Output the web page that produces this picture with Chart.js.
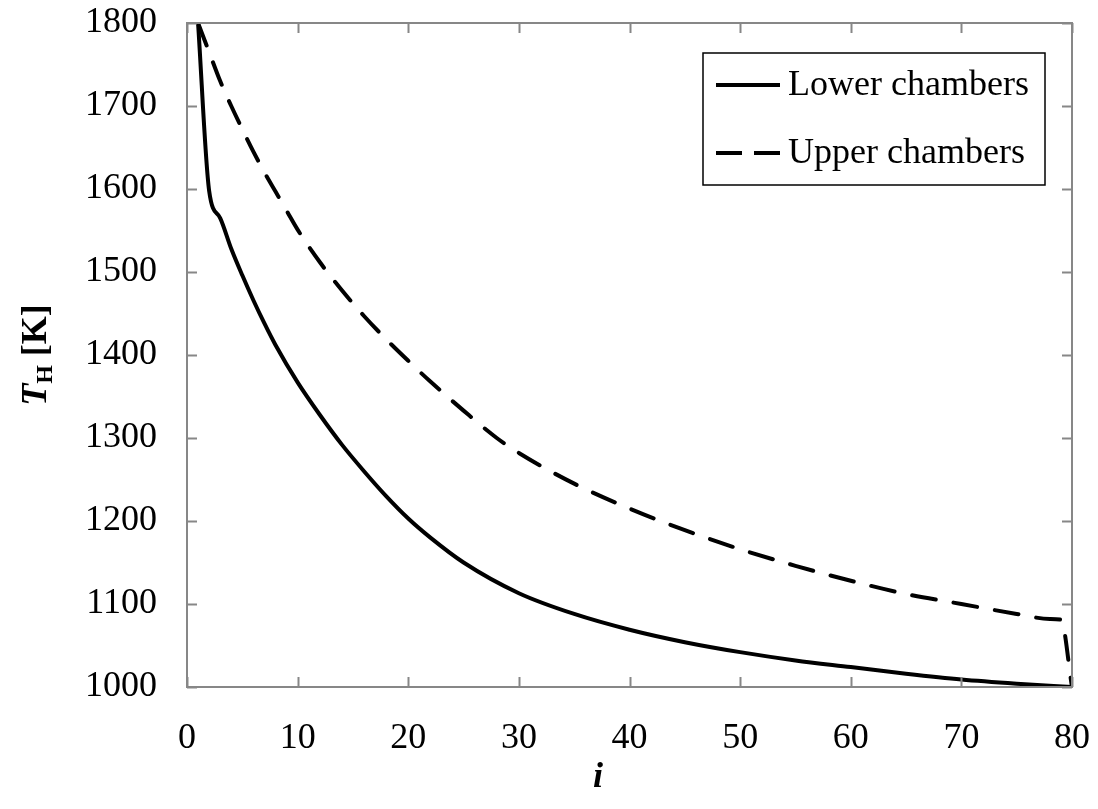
<!DOCTYPE html>
<html>
<head>
<meta charset="utf-8">
<script src="https://cdn.jsdelivr.net/npm/chart.js@4/dist/chart.umd.min.js"></script>
<style>
  html, body { margin: 0; padding: 0; background: #ffffff; }
  #wrap { width: 1098px; height: 809px; }
</style>
</head>
<body>
<div id="wrap"><canvas id="c" width="1098" height="809"></canvas></div>
<script>
// ---- data ----
const lowerLabel = "Lower chambers";
const upperLabel = "Upper chambers";
const iLower = [1,2,3,4,5,6,7,8,10,12,14,16,18,20,22,25,30,35,40,45,50,55,60,65,70,75,80];
const tLower = [1800,1598,1565,1528,1496,1466,1438,1412,1367,1328,1292,1260,1230,1203,1180,1150,1113,1088,1069,1054,1042,1032,1024,1016,1009,1004,1000];
const iUpper = [1,2,3,4,5,6,7,8,9,10,12,14,16,18,20,22,25,28,30,35,40,45,50,55,60,65,70,75,78,79,80];
const tUpper = [1800,1765,1730,1700,1672,1645,1620,1597,1574,1551,1512,1478,1447,1419,1393,1368,1333,1300,1282,1245,1215,1189,1166,1146,1128,1112,1100,1088,1082,1081,1000];
const xTicks = [0,10,20,30,40,50,60,70,80];
const yTicks = [1000,1100,1200,1300,1400,1500,1600,1700,1800];

const toPts = (xs, ys) => xs.map((x, k) => ({x: x, y: ys[k]}));

const SERIF = '"Liberation Serif", "DejaVu Serif", serif';
const FS = 36;
const AXIS = '#878787';

// frame + inward ticks
const framePlugin = {
  id: 'frame',
  afterDraw(chart) {
    const {ctx, chartArea: a, scales: {x, y}} = chart;
    ctx.save();
    ctx.strokeStyle = AXIS;
    ctx.lineWidth = 2;
    ctx.strokeRect(a.left, a.top, a.right - a.left, a.bottom - a.top);
    ctx.beginPath();
    const L = 10;
    xTicks.forEach(v => {
      const px = Math.round(x.getPixelForValue(v)) + 0.5;
      ctx.moveTo(px, a.bottom); ctx.lineTo(px, a.bottom - L);
      ctx.moveTo(px, a.top); ctx.lineTo(px, a.top + L);
    });
    yTicks.forEach(v => {
      const py = Math.round(y.getPixelForValue(v)) + 0.5;
      ctx.moveTo(a.left, py); ctx.lineTo(a.left + L, py);
      ctx.moveTo(a.right, py); ctx.lineTo(a.right - L, py);
    });
    ctx.stroke();
    ctx.restore();
  }
};

// boxed legend inside plot
const legendPlugin = {
  id: 'boxLegend',
  afterDraw(chart) {
    const ctx = chart.ctx;
    const bx = 703, by = 53, bw = 342, bh = 132;
    ctx.save();
    ctx.fillStyle = '#ffffff';
    ctx.fillRect(bx, by, bw, bh);
    ctx.strokeStyle = '#000000';
    ctx.lineWidth = 1.5;
    ctx.strokeRect(bx, by, bw, bh);
    ctx.font = FS + 'px ' + SERIF;
    ctx.fillStyle = '#000';
    ctx.textBaseline = 'middle';
    chart.data.datasets.forEach((ds, k) => {
      const yy = by + 32 + k * 68;
      ctx.beginPath();
      ctx.lineWidth = 4;
      ctx.lineCap = 'butt';
      ctx.strokeStyle = '#000';
      ctx.setLineDash(ds.borderDash && ds.borderDash.length ? [26, 12] : []);
      ctx.moveTo(716, yy); ctx.lineTo(780, yy);
      ctx.stroke();
      ctx.setLineDash([]);
      ctx.fillText(ds.label, 788, yy + 1);
    });
    ctx.restore();
  }
};

// axis titles with subscript / italic
const titlesPlugin = {
  id: 'titles',
  afterDraw(chart) {
    const ctx = chart.ctx;
    ctx.save();
    ctx.fillStyle = '#000';
    ctx.textBaseline = 'alphabetic';
    // x title
    ctx.font = 'italic bold ' + FS + 'px ' + SERIF;
    ctx.textAlign = 'center';
    ctx.fillText('i', 598, 787);
    // y title
    ctx.translate(46, 355);
    ctx.rotate(-Math.PI / 2);
    const f1 = 'italic bold ' + FS + 'px ' + SERIF;
    const f2 = 'bold ' + Math.round(FS * 0.66) + 'px ' + SERIF;
    const f3 = 'bold ' + FS + 'px ' + SERIF;
    ctx.font = f1; const w1 = ctx.measureText('T').width;
    ctx.font = f2; const w2 = ctx.measureText('H').width;
    ctx.font = f3; const w3 = ctx.measureText(' [K]').width;
    let xs = -(w1 + w2 + w3) / 2;
    ctx.textAlign = 'left';
    ctx.font = f1; ctx.fillText('T', xs, 0); xs += w1;
    ctx.font = f2; ctx.fillText('H', xs, 6); xs += w2;
    ctx.font = f3; ctx.fillText(' [K]', xs, 0);
    ctx.restore();
  }
};

new Chart(document.getElementById('c'), {
  type: 'line',
  data: {
    datasets: [
      { label: lowerLabel, data: toPts(iLower, tLower), borderColor: '#000', borderWidth: 4,
        pointRadius: 0, cubicInterpolationMode: 'monotone', fill: false },
      { label: upperLabel, data: toPts(iUpper, tUpper), borderColor: '#000', borderWidth: 4,
        borderDash: [24, 18], borderCapStyle: 'round',
        pointRadius: 0, cubicInterpolationMode: 'monotone', fill: false }
    ]
  },
  options: {
    responsive: false,
    animation: false,
    layout: { padding: { left: 0, right: 26, top: 23, bottom: 0 } },
    plugins: { legend: { display: false }, tooltip: { enabled: false } },
    scales: {
      x: {
        type: 'linear', min: 0, max: 80,
        afterBuildTicks: s => { s.ticks = xTicks.map(v => ({value: v})); },
        afterFit: s => { s.height = 122; s.paddingLeft = 0; s.paddingRight = 0; },
        grid: { display: false, drawTicks: false },
        border: { display: false },
        ticks: { color: '#000', font: { family: SERIF, size: FS }, padding: 30, maxRotation: 0,
                 callback: v => String(v) }
      },
      y: {
        type: 'linear', min: 1000, max: 1800,
        afterBuildTicks: s => { s.ticks = yTicks.map(v => ({value: v})); },
        afterFit: s => { s.width = 187; s.paddingTop = 0; s.paddingBottom = 0; },
        grid: { display: false, drawTicks: false },
        border: { display: false },
        ticks: { color: '#000', font: { family: SERIF, size: FS }, padding: 30,
                 callback: v => String(v) }
      }
    }
  },
  plugins: [framePlugin, legendPlugin, titlesPlugin]
});
</script>
</body>
</html>
